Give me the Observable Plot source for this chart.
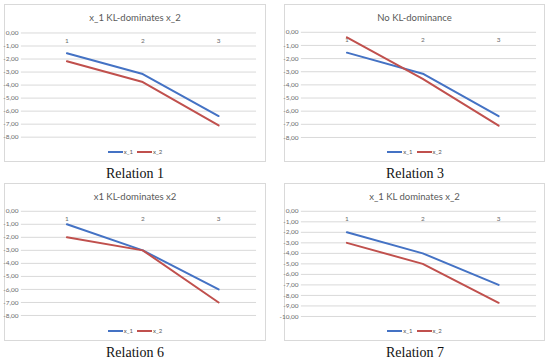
<!DOCTYPE html>
<html>
<head>
<meta charset="utf-8">
<script src="https://cdn.jsdelivr.net/npm/d3@7"></script>
<script src="https://cdn.jsdelivr.net/npm/@observablehq/plot@0.6"></script>
<style>
  html, body { margin: 0; padding: 0; background: #fff; }
  #root { position: relative; width: 550px; height: 363px; overflow: hidden; }
  .panel { position: absolute; box-sizing: border-box; border: 1px solid #d9d9d9; background: #fff; height: 158px; }
  .panel svg.plot { position: absolute; left: 0; top: 0; }
  .ptitle { position: absolute; left: 0; right: 0; top: 7px; text-align: center; font-family: Lato, sans-serif; font-size: 9.5px; color: #595959; line-height: 12px; }
  .legend { position: absolute; left: 0; right: 0; top: 141px; text-align: center; font-family: Lato, sans-serif; font-size: 6px; color: #595959; line-height: 10px; }
  .legend span.item { display: inline-flex; align-items: center; margin: 0 2px; }
  .legend span.sw { display: inline-block; width: 15px; height: 2px; margin-right: 1px; }
  .caption { position: absolute; width: 262px; text-align: center; font-family: "Liberation Serif", "DejaVu Serif", serif; font-size: 14px; color: #111; line-height: 16px; }
</style>
</head>
<body>
<div id="root"></div>
<script>
const categories = [1, 2, 3];
const seriesNames = ["x_1", "x_2"];
const seriesColors = ["#4472C4", "#C0504D"];

const rel1Title = "x_1 KL-dominates x_2";
const rel1X1 = [-1.55, -3.15, -6.38];
const rel1X2 = [-2.17, -3.77, -7.1];

const rel3Title = "No KL-dominance";
const rel3X1 = [-1.55, -3.15, -6.38];
const rel3X2 = [-0.38, -3.55, -7.1];

const rel6Title = "x1 KL-dominates x2";
const rel6X1 = [-1, -3, -6];
const rel6X2 = [-2, -3, -7];

const rel7Title = "x_1 KL dominates x_2";
const rel7X1 = [-2, -4, -7];
const rel7X2 = [-3, -5, -8.7];

const ticks8 = [0, -1, -2, -3, -4, -5, -6, -7, -8];
const ticks10 = [0, -1, -2, -3, -4, -5, -6, -7, -8, -9, -10];

const captions = ["Relation 1", "Relation 3", "Relation 6", "Relation 7"];

const panels = [
  {title: rel1Title, x1: rel1X1, x2: rel1X2, ticks: ticks8, left: 4, top: 4, w: 262, mt: 27.7, mb: 25.3, caption: captions[0], capTop: 166},
  {title: rel3Title, x1: rel3X1, x2: rel3X2, ticks: ticks8, left: 284, top: 4, w: 261, mt: 27, mb: 25, caption: captions[1], capTop: 166},
  {title: rel6Title, x1: rel6X1, x2: rel6X2, ticks: ticks8, left: 4, top: 183, w: 262, mt: 27, mb: 26, caption: captions[2], capTop: 345},
  {title: rel7Title, x1: rel7X1, x2: rel7X2, ticks: ticks10, left: 284, top: 183, w: 261, mt: 27, mb: 25, caption: captions[3], capTop: 345}
];

const fmt = d => d.toFixed(2).replace(".", ",");
const root = document.getElementById("root");

for (const p of panels) {
  const data = [];
  categories.forEach((c, i) => {
    data.push({cat: c, value: p.x1[i], series: seriesNames[0]});
    data.push({cat: c, value: p.x2[i], series: seriesNames[1]});
  });
  const div = document.createElement("div");
  div.className = "panel";
  div.style.left = p.left + "px";
  div.style.top = p.top + "px";
  div.style.width = p.w + "px";
  root.appendChild(div);

  const chart = Plot.plot({
    width: p.w,
    height: 158,
    marginLeft: 16,
    marginRight: p.w - 253,
    marginTop: p.mt,
    marginBottom: p.mb,
    style: {fontFamily: "Lato, sans-serif", background: "transparent", overflow: "visible"},
    x: {type: "linear", domain: [0.4, 3.5], axis: null, label: null},
    y: {domain: [d3.min(p.ticks), 0], axis: null, label: null},
    color: {domain: seriesNames, range: seriesColors},
    marks: [
      Plot.gridY(p.ticks, {stroke: "#d9d9d9", strokeOpacity: 1, strokeWidth: 1}),
      Plot.axisY(p.ticks, {label: null, tickSize: 0, tickPadding: 3, tickFormat: fmt, fontSize: 6.5, fill: "#6b6b6b"}),
      Plot.axisX(categories, {label: null, anchor: "top", tickSize: 0, tickPadding: -10, tickFormat: d => String(d), fontSize: 6.5, fill: "#6b6b6b"}),
      Plot.line(data, {x: "cat", y: "value", stroke: "series", z: "series", strokeWidth: 2})
    ]
  });
  chart.classList.add("plot");
  div.appendChild(chart);

  const t = document.createElement("div");
  t.className = "ptitle";
  t.textContent = p.title;
  div.appendChild(t);

  const lg = document.createElement("div");
  lg.className = "legend";
  seriesNames.forEach((s, i) => {
    const it = document.createElement("span");
    it.className = "item";
    const sw = document.createElement("span");
    sw.className = "sw";
    sw.style.background = seriesColors[i];
    it.appendChild(sw);
    it.appendChild(document.createTextNode(s));
    lg.appendChild(it);
  });
  div.appendChild(lg);

  const cap = document.createElement("div");
  cap.className = "caption";
  cap.style.left = p.left + "px";
  cap.style.top = p.capTop + "px";
  cap.textContent = p.caption;
  root.appendChild(cap);
}
</script>
</body>
</html>
